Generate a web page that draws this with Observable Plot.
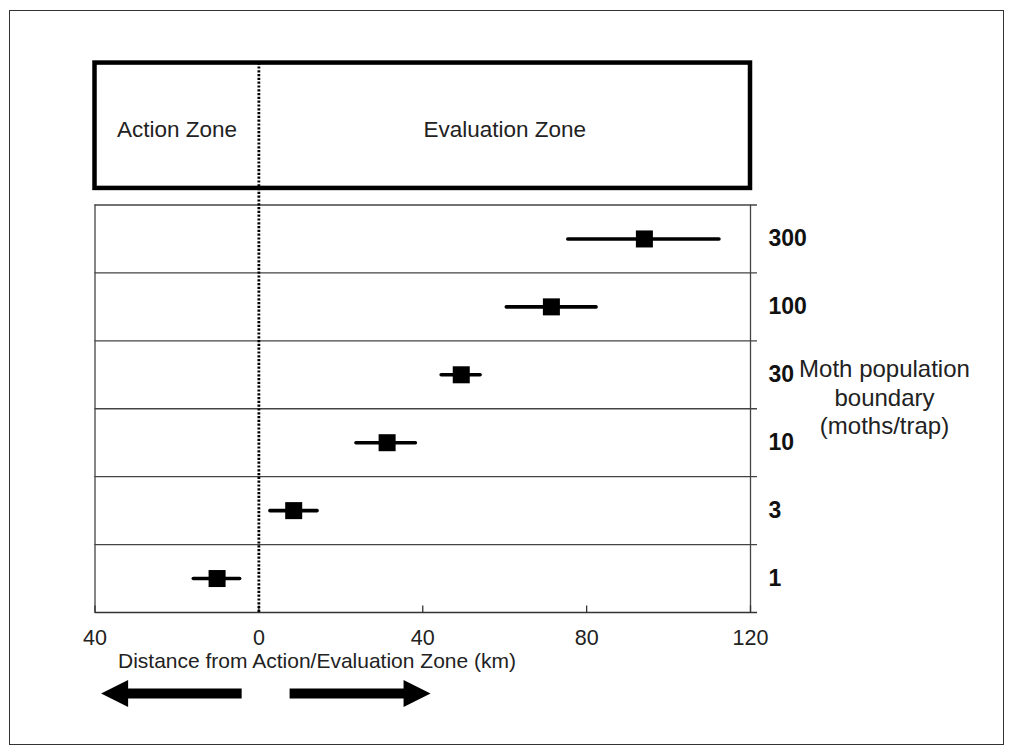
<!DOCTYPE html>
<html>
<head>
<meta charset="utf-8">
<script src="https://cdn.jsdelivr.net/npm/d3@7"></script>
<script src="https://cdn.jsdelivr.net/npm/@observablehq/plot@0.6"></script>
<style>
  html, body { margin: 0; padding: 0; background: #fff; }
  #chart svg { display: block; }
</style>
</head>
<body>
<div id="chart"></div>
<script>
// ---- data ----
const categories = ["300", "100", "30", "10", "3", "1"];          // moth population boundary (moths/trap), top to bottom
const meanKm     = [94.1, 71.4, 49.4, 31.3, 8.5, -10.2];           // distance estimate (km)
const lowKm      = [75.4, 60.4, 44.5, 23.7, 2.7, -16.0];           // lower end of range
const highKm     = [112.3, 82.3, 54.0, 38.2, 14.2, -4.7];          // upper end of range
const xTicks      = [-40, 0, 40, 80, 120];
const xTickLabels = ["40", "0", "40", "80", "120"];
const zoneNames   = ["Action Zone", "Evaluation Zone"];
const zoneBounds  = [[-40, 0], [0, 120]];
const arrowStart  = [-4.2, 7.5];     // shaft starts (km)
const arrowTip    = [-38.5, 41.9];   // arrow tips (km)

// ---- layout ----
const rows = categories.map((c, i) => ({cat: c, mean: meanKm[i], lo: lowKm[i], hi: highKm[i], yc: categories.length - i - 0.5}));
const boxY1 = 6.244, boxY2 = 8.09, arrowY = -1.193, zoneTextY = 7.1;
const FONT = "'Liberation Sans', Arial, sans-serif";

const vtick = {draw(ctx) { ctx.moveTo(0, 0); ctx.lineTo(0, -7); }};
const headR = {draw(ctx) { ctx.moveTo(0, 0); ctx.lineTo(-27, -13.5); ctx.lineTo(-27, 13.5); ctx.closePath(); }};
const headL = {draw(ctx) { ctx.moveTo(0, 0); ctx.lineTo(27, -13.5); ctx.lineTo(27, 13.5); ctx.closePath(); }};

const arrows = arrowStart.map((s, i) => ({s, tip: arrowTip[i], dir: Math.sign(arrowTip[i] - s)}));
const grid = "#444";

const plot = Plot.plot({
  width: 1014,
  height: 754,
  marginLeft: 94.5,
  marginRight: 264,
  marginTop: 204.5,
  marginBottom: 142,
  x: {domain: [-40, 120], axis: null},
  y: {domain: [0, 6], axis: null},
  style: {fontFamily: FONT, background: "white", overflow: "visible", color: "#111"},
  marks: [
    // top zone box
    Plot.rect([0], {x1: -40, x2: 120, y1: boxY1, y2: boxY2, fill: "none", stroke: "#000", strokeWidth: 4.5}),
    Plot.text(zoneNames, {x: (d, i) => (zoneBounds[i][0] + zoneBounds[i][1]) / 2, y: zoneTextY, text: d => d, fontSize: 22.5, fill: "#222"}),
    // row separators with right ticks
    Plot.ruleY([1, 2, 3, 4, 5, 6], {x1: -40, x2: 120, insetRight: -7, stroke: grid, strokeWidth: 1.3}),
    Plot.ruleY([0], {x1: -40, x2: 120, insetRight: -7, stroke: "#333", strokeWidth: 1.3}),
    Plot.ruleX([-40, 120], {y1: 0, y2: 6, stroke: grid, strokeWidth: 1.3}),
    // x ticks (pointing up)
    Plot.dot(xTicks, {x: d => d, y: 0, symbol: vtick, fill: "none", stroke: "#333", strokeWidth: 1.3}),
    Plot.text(xTicks, {x: d => d, y: 0, text: (d, i) => xTickLabels[i], dy: 26, fontSize: 21.5, fill: "#222"}),
    Plot.text(["Distance from Action/Evaluation Zone (km)"], {frameAnchor: "bottom-left", dx: 23, dy: 55, textAnchor: "start", fontSize: 21, fill: "#222"}),
    // dotted zone boundary
    Plot.ruleX([0], {y1: 0, y2: boxY2, stroke: "#000", strokeWidth: 2.8, strokeDasharray: "2.2,1.6"}),
    // error bars and points
    Plot.link(rows, {x1: "lo", x2: "hi", y1: "yc", y2: "yc", stroke: "#000", strokeWidth: 3.6, strokeLinecap: "round"}),
    Plot.dot(rows, {x: "mean", y: "yc", symbol: "square", r: 9.6, fill: "#000", stroke: "none"}),
    // right-hand category labels
    Plot.text(rows, {x: 120, y: "yc", text: "cat", dx: 18, textAnchor: "start", fontWeight: "bold", fontSize: 23, fill: "#111"}),
    Plot.text(["Moth population\nboundary\n(moths/trap)"], {x: 120, y: 3.18, dx: 134, fontSize: 24, lineHeight: 1.19, fill: "#222"}),
    // direction arrows
    Plot.link(arrows, {x1: "s", x2: d => d.tip - d.dir * 5, y1: arrowY, y2: arrowY, stroke: "#000", strokeWidth: 10}),
    Plot.dot(arrows.filter(d => d.dir > 0), {x: "tip", y: arrowY, symbol: headR, fill: "#000", stroke: "none"}),
    Plot.dot(arrows.filter(d => d.dir < 0), {x: "tip", y: arrowY, symbol: headL, fill: "#000", stroke: "none"})
  ]
});

// outer picture frame
d3.select(plot).insert("rect", ":first-child")
  .attr("x", 9.5).attr("y", 10.5).attr("width", 994).attr("height", 734)
  .attr("fill", "none").attr("stroke", "#333").attr("stroke-width", 1);

document.getElementById("chart").appendChild(plot);
</script>
</body>
</html>
